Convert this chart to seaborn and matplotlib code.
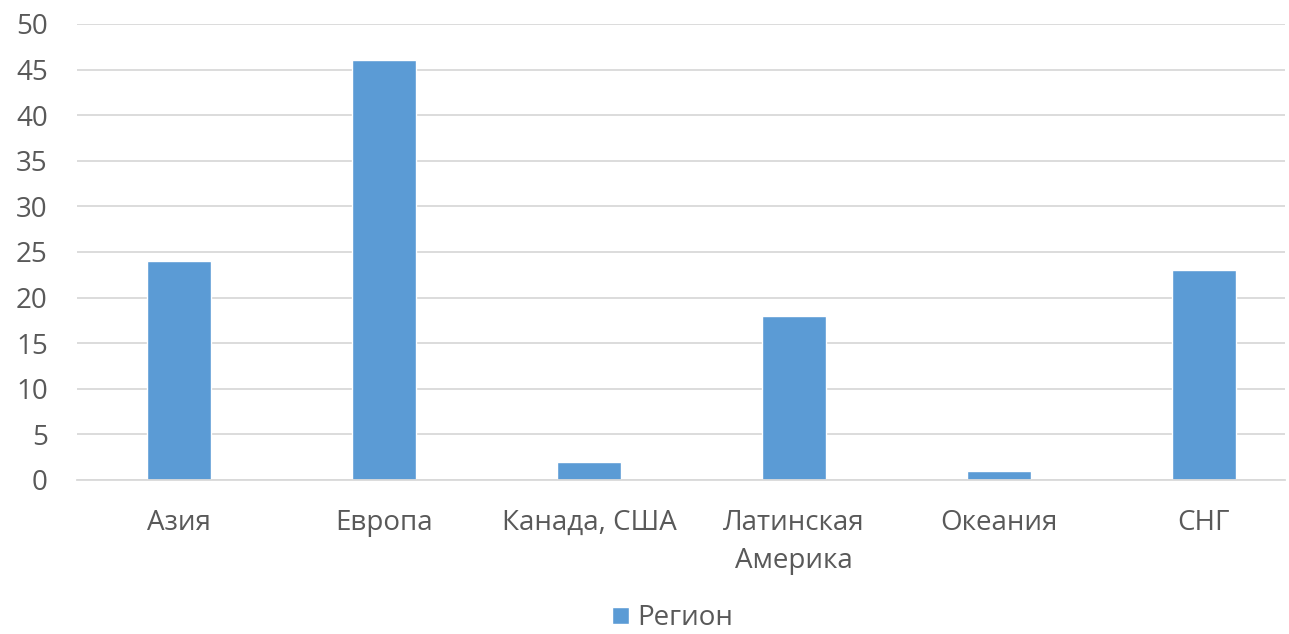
import matplotlib
matplotlib.use("Agg")
import matplotlib.pyplot as plt
import seaborn as sns
import pandas as pd

categories = ["Азия", "Европа", "Канада, США", "Латинская\nАмерика", "Океания", "СНГ"]
values = [24, 46, 2, 18, 1, 23]
series_name = "Регион"
yticks = [0, 5, 10, 15, 20, 25, 30, 35, 40, 45, 50]

sns.set_theme(style="white")
plt.rcParams['font.family'] = ['Open Sans', 'DejaVu Sans']

df = pd.DataFrame({"cat": categories, "val": values, "series": series_name})

W, H = 1289, 634
fig = plt.figure(figsize=(W / 100, H / 100), dpi=100)
left_px, right_px, top_px, bottom_px = 77, 1285, 24, 480
ax = fig.add_axes([left_px / W, 1 - bottom_px / H, (right_px - left_px) / W, (bottom_px - top_px) / H])
sns.barplot(data=df, x="cat", y="val", hue="series", palette=["#5B9BD5"],
            width=0.3125, ax=ax, saturation=1, legend=True)
ax.set_ylim(0, 50)
ax.set_yticks(yticks)
ax.set_xlim(-0.5, 5.397)
ax.yaxis.grid(True, color="#D9D9D9", linewidth=1.3)
ax.set_axisbelow(True)
for s in ["top", "right", "left"]:
    ax.spines[s].set_visible(False)
ax.spines["bottom"].set_color("#D9D9D9")
ax.spines["bottom"].set_linewidth(1.3)
ax.tick_params(axis="both", length=0, labelsize=20, colors="#595959")
ax.tick_params(axis="y", pad=21)
ax.tick_params(axis="x", pad=21)
ax.set_xlabel("")
ax.set_ylabel("")
for lab in ax.get_xticklabels():
    lab.set_linespacing(1.45)

leg = ax.legend(loc="center", bbox_to_anchor=(0.493, -0.303), frameon=False,
                fontsize=20, handlelength=0.6, handleheight=0.6, handletextpad=0.3,
                borderpad=0.1)
for t in leg.get_texts():
    t.set_color("#595959")

fig.savefig("out.png", dpi=100)
